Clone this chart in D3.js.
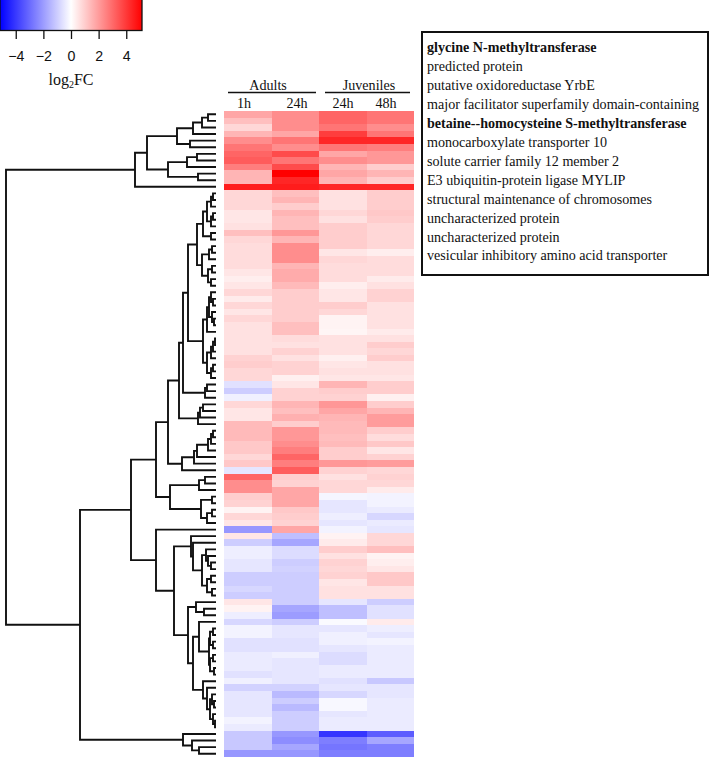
<!DOCTYPE html>
<html>
<head>
<meta charset="utf-8">
<script src="https://cdn.jsdelivr.net/npm/d3@7"></script>
<style>
html,body{margin:0;padding:0;background:#fff;overflow:hidden}
svg{display:block}
</style>
</head>
<body>
<svg id="chart" width="710" height="757"></svg>
<script>
const conditions = ["A1h","A24h","J24h","J48h"];
const adults1h = [1.8,1.3,.8,1.5,2.3,2.8,3.1,3.3,2.6,1.5,1.5,4.6,
 .8,.8,.8,.5,.5,.6,1.3,.8,.7,.7,.7,.7,.5,.35,.5,.8,.4,.8,.5,.8,.6,.6,.6,.6,.6,.9,1,.8,.8,
 -.6,-1,-.3,.8,.5,.5,1.4,1.4,1.4,1.1,1.1,.8,1.1,-.5,3.1,2.3,2.3,1,.9,.25,.8,.5,-2.1,.5,-1,
 -.35,-.35,-.5,-.5,-1,-1,-.8,-1,.5,.25,-.35,-.8,-.25,-.25,-.6,-.6,-.4,-.4,-.4,-.6,-.3,-.9,
 -.5,-.5,-.5,-.5,-.25,-.4,-1.1,-1.1,-1.1,-2.1];
const adults24h = [2.3,2.3,2.3,1.8,2.8,2.3,3.6,2.8,3.6,5.1,4.4,4.6,
 1.3,1.5,1,1.5,1.3,1.3,2.1,1.5,2.3,2.3,2.3,1.5,1.7,1.7,1.4,1,1,1,1,1,1.3,1.3,.7,.6,.9,.6,.9,.9,.3,
 .5,.9,.9,1.5,1.3,1.6,1,2.1,2.1,2.3,2.6,3.1,2.6,3.3,1,.9,1.8,1.8,1.8,1.1,1,.9,1.8,-1.3,-1.8,
 -.7,-.7,-1,-.9,-1,-1,-1,-1,-1,-1.8,-2,-1,-.5,-.5,-.6,-.6,-.3,-.5,-.5,-.5,-.5,-.9,
 -1.4,-1,-1.4,-1,-1,-1,-2.1,-2.3,-1.8,-2.1];
const juveniles24h = [3.1,3.1,2.8,3.9,4.4,2.8,1.8,2.3,1.5,1.8,1.5,4.4,
 .6,.6,.6,.8,.6,1,1,1,1,.5,.8,.7,.7,.7,.35,.5,.5,1,.8,.25,.25,.2,.6,.6,.6,.3,.5,.6,.5,
 1.5,1,.9,2.1,1.8,1.5,1.4,1.4,1.3,1.4,1,1,2.1,.9,.6,.8,.8,-.2,-.5,-.5,-.35,-.5,-.25,.25,.4,
 1,.6,.9,.8,.9,.5,.6,.6,-.5,-1.3,-1.3,-.1,-.5,-.3,-.3,-.5,-.7,-.7,-.4,-.4,-.6,-.5,
 -.8,-.15,-.15,-.5,-.4,-.4,-4.1,-2.6,-2.8,-2.6];
const juveniles48h = [2.8,2.8,2.3,2.8,4.4,2.6,2.1,2.1,1,1.5,1,4.4,
 1,1,1,1.1,1,.8,.8,.8,.8,.35,.7,.7,.7,.4,.6,.9,.9,.6,.6,.6,.6,.4,.6,1,.8,1,.6,.6,.5,
 1,1,.3,1,1.5,2,2,1,.7,1.1,.5,.9,2,.8,.9,.8,.4,-.25,-.25,-.4,-.8,-.4,-.5,.8,.8,
 1.3,.25,.35,.5,1.1,1.1,.6,.6,-1,-.6,-.6,.4,-.35,-.5,-.25,-.4,-.4,-.4,-.4,-.4,-1.1,-.5,
 -.5,-.4,-.4,-.4,-.4,-.4,-3.3,-1.8,-2.6,-2.6];
const seriesValues = [adults1h, adults24h, juveniles24h, juveniles48h];

// Linkage tree: [merge height, upper child, lower child]; 0 is a leaf.
const treeTop = [81,
  [69,
    [39,[23,[14,[8,0,0],0],0],[26,0,0]],
    [48,[29,[19,0,0],0],[18,0,0]]],
  0];
const treeMid = [33,
  [28,
    [19,
      [13,[9,[5,[3,0,0],0],[5,[3,0,0],0]],[5,0,0]],
      [14,[7,[4,0,0],0],[8,[4,0,0],[5,0,0]]]],
    [13,
      [9,[7,[5,0,[3,0,0]],[4,0,[2,0,0]]],0],
      [9,[5,[3,[1,0,0],0],0],[5,[3,0,0],0]]]],
  [11,[9,0,0],0]];
const treeUp = [60,
  [48,
    [37,treeMid,[18,[16,[13,0,0],0],0]],
    [34,[22,[19,[8,[5,[3,0,0],0],0],0],0],0]],
  [46,[17,[11,0,0],0],[15,[4,0,0],[9,[4,0,0],0]]]];
const treeDown = [60,0,
  [42,
    [25,0,[23,0,[14,[10,0,[8,0,[5,0,0]]],[9,[5,0,0],[4,0,0]]]]],
    [28,
      [20,0,[12,0,0]],
      [23,
        [17,0,[7,[6,[3,0,0],[3,0,0]],[6,[3,0,0],[2,0,0]]]],
        [13,0,[9,0,[6,[4,0,[2,0,0]],[3,0,[1,0,0]]]]]]]]];
const treeLow = [33,0,[24,0,[17,0,0]]];
const treeRoot = [210,treeTop,[136,[85,treeUp,treeDown],treeLow]];

const groupLabels = ["Adults","Juveniles"];
const timeLabels = ["1h","24h","24h","48h"];
const geneLabels = ["glycine N-methyltransferase","predicted protein","putative oxidoreductase YrbE",
 "major facilitator superfamily domain-containing","betaine--homocysteine S-methyltransferase",
 "monocarboxylate transporter 10","solute carrier family 12 member 2","E3 ubiquitin-protein ligase MYLIP",
 "structural maintenance of chromosomes","uncharacterized protein","uncharacterized protein",
 "vesicular inhibitory amino acid transporter"];
const boldGenes = [0,4];
const legendTicks = [-4,-2,0,2,4];
const fcLimit = 5.14;

const svg = d3.select("#chart");
const serif = "'Liberation Serif','Times New Roman',serif";
const sans = "'Liberation Sans',Arial,sans-serif";
const ink = "#111";

const color = d3.scaleLinear().domain([-fcLimit,0,fcLimit]).range(["#0000ff","#ffffff","#ff0000"]);
const nRows = adults1h.length;
const yRow = d3.scaleBand().domain(d3.range(nRows)).range([111,757]);
const xCol = d3.scaleBand().domain(conditions).range([224,414]);

const defs = svg.append("defs");
defs.append("filter").attr("id","soft").attr("filterUnits","userSpaceOnUse")
  .attr("x",220).attr("y",107).attr("width",198).attr("height",654)
  .append("feGaussianBlur").attr("stdDeviation","0.5 0.6");
defs.append("clipPath").attr("id","heatClip").append("rect")
  .attr("x",224).attr("y",111).attr("width",190).attr("height",646);

// heatmap
svg.append("g").attr("clip-path","url(#heatClip)")
  .append("g").attr("filter","url(#soft)")
  .selectAll("g").data(conditions).join("g")
  .each(function(c,j){
    d3.select(this).selectAll("rect").data(seriesValues[j]).join("rect")
      .attr("x",xCol(c)).attr("width",xCol.bandwidth())
      .attr("y",(d,i)=>yRow(i)).attr("height",yRow.bandwidth()+0.3)
      .attr("shape-rendering","crispEdges")
      .attr("fill",d=>color(d));
  });

// dendrogram
const xH = d3.scaleLinear().domain([0,210]).range([216,6]);
const root = d3.hierarchy(treeRoot,d=>Array.isArray(d)?d.slice(1):null);
let leafIdx = 0;
root.eachAfter(n=>{
  if(!n.children){ n.py = yRow(leafIdx++)+yRow.bandwidth()/2; n.px = xH(0); }
  else { n.py = (n.children[0].py+n.children[1].py)/2; n.px = xH(n.data[0]); }
});
svg.append("g").selectAll("path").data(root.descendants().filter(n=>n.children)).join("path")
  .attr("fill","none").attr("stroke",ink).attr("stroke-width",1.9)
  .attr("stroke-linejoin","miter")
  .attr("d",n=>{
    const [a,b]=n.children;
    return `M${a.px},${a.py}H${n.px}V${b.py}H${b.px}`;
  });

// colour key
const xKey = d3.scaleLinear().domain([-fcLimit,fcLimit]).range([0,142]);
const grad = defs.append("linearGradient").attr("id","key");
grad.selectAll("stop").data([-fcLimit,0,fcLimit]).join("stop")
  .attr("offset",d=>xKey(d)/142).attr("stop-color",d=>color(d));
svg.append("rect").attr("x",0).attr("y",-1).attr("width",142).attr("height",31.5)
  .attr("fill","url(#key)").attr("stroke",ink).attr("stroke-width",1.3);
const keyAxis = svg.append("g").attr("transform","translate(0,30.5)")
  .call(d3.axisBottom(xKey).tickValues(legendTicks).tickSize(8.5).tickPadding(12));
keyAxis.select(".domain").remove();
keyAxis.selectAll("line").attr("stroke",ink).attr("stroke-width",1.3);
keyAxis.selectAll("text").attr("font-family",sans).attr("font-size",14.2).attr("fill",ink);
const keyTitle = svg.append("text").attr("x",71).attr("y",85).attr("text-anchor","middle")
  .attr("font-family",serif).attr("font-size",16).attr("fill",ink);
keyTitle.append("tspan").text("log");
keyTitle.append("tspan").text("2").attr("font-size",10).attr("dy",3);
keyTitle.append("tspan").text("FC").attr("dy",-3);

// column headers
const groupSpans = [[228,316],[325,410]];
const groupCentres = [268,369];
const groupG = svg.append("g");
groupLabels.forEach((g,i)=>{
  const [a,b]=groupSpans[i];
  groupG.append("line").attr("x1",a).attr("x2",b).attr("y1",92.5).attr("y2",92.5)
    .attr("stroke",ink).attr("stroke-width",1.3);
  groupG.append("text").text(g).attr("x",groupCentres[i]).attr("y",89.5)
    .attr("text-anchor","middle").attr("font-family",serif).attr("font-size",14.1).attr("fill",ink);
});
const timeX = [244,297,343,386];
svg.append("g").selectAll("text").data(timeLabels).join("text")
  .text(d=>d).attr("x",(d,i)=>timeX[i]).attr("y",107.5)
  .attr("text-anchor","middle").attr("font-family",serif).attr("font-size",14.1).attr("fill",ink);

// gene box
svg.append("rect").attr("x",422).attr("y",32).attr("width",286).attr("height",243)
  .attr("fill","#fff").attr("stroke",ink).attr("stroke-width",2);
svg.append("g").selectAll("text").data(geneLabels).join("text")
  .text(d=>d).attr("x",427).attr("y",(d,i)=>52+i*18.95)
  .attr("font-family",serif).attr("font-size",14.1).attr("fill",ink)
  .attr("font-weight",(d,i)=>boldGenes.includes(i)?"bold":"normal");
</script>
</body>
</html>
